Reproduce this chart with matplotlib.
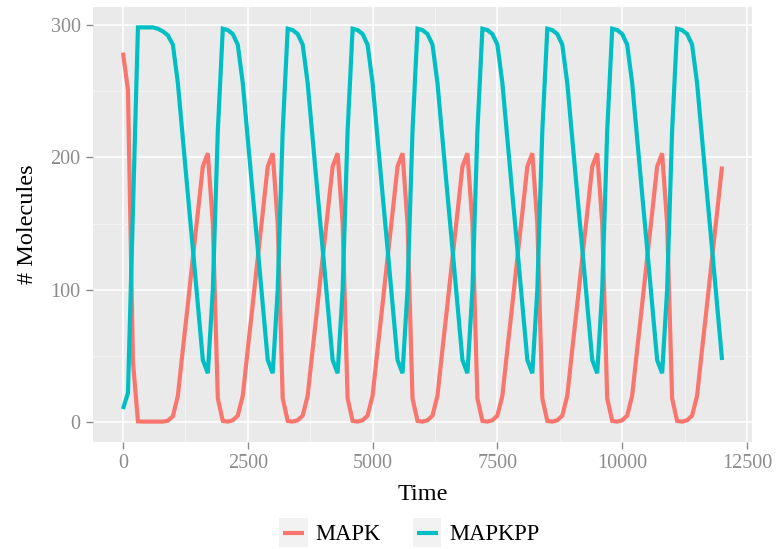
import numpy as np
import matplotlib
matplotlib.use("Agg")
import matplotlib.pyplot as plt
from matplotlib.legend_handler import HandlerLine2D
from matplotlib.patches import Rectangle
from matplotlib.lines import Line2D

# ---- data ----
time = np.arange(0, 12001, 100)

mapk = [
    279, 251, 46, 0.7, 0.5, 0.5, 0.5, 0.5, 0.5, 1.2, 4.5, 20, 55, 89, 124, 158, 193, 203, 150, 18,
    1, 0.5, 1.5, 5, 20, 55, 89, 124, 158, 193, 203, 150, 18,
    1, 0.5, 1.5, 5, 20, 55, 89, 124, 158, 193, 203, 150, 18,
    1, 0.5, 1.5, 5, 20, 55, 89, 124, 158, 193, 203, 150, 18,
    1, 0.5, 1.5, 5, 20, 55, 89, 124, 158, 193, 203, 150, 18,
    1, 0.5, 1.5, 5, 20, 55, 89, 124, 158, 193, 203, 150, 18,
    1, 0.5, 1.5, 5, 20, 55, 89, 124, 158, 193, 203, 150, 18,
    1, 0.5, 1.5, 5, 20, 55, 89, 124, 158, 193, 203, 150, 18,
    1, 0.5, 1.5, 5, 20, 55, 89, 124, 158, 193,
]
mapkpp = [
    10, 22, 160, 298, 298, 298, 298, 297, 295, 292, 285, 256, 214, 172, 131, 89, 47, 37, 100, 220,
    297, 296, 293, 285, 256, 214, 172, 131, 89, 47, 37, 100, 220,
    297, 296, 293, 285, 256, 214, 172, 131, 89, 47, 37, 100, 220,
    297, 296, 293, 285, 256, 214, 172, 131, 89, 47, 37, 100, 220,
    297, 296, 293, 285, 256, 214, 172, 131, 89, 47, 37, 100, 220,
    297, 296, 293, 285, 256, 214, 172, 131, 89, 47, 37, 100, 220,
    297, 296, 293, 285, 256, 214, 172, 131, 89, 47, 37, 100, 220,
    297, 296, 293, 285, 256, 214, 172, 131, 89, 47, 37, 100, 220,
    297, 296, 293, 285, 256, 214, 172, 131, 89, 47,
]
series_names = ["MAPK", "MAPKPP"]
series_colors = ["#F8766D", "#00BFC4"]
x_ticks = [0, 2500, 5000, 7500, 10000, 12500]
y_ticks = [0, 100, 200, 300]

FONT = ["Liberation Serif", "DejaVu Serif"]
plt.rcParams["font.family"] = FONT

W, H = 780, 549
fig = plt.figure(figsize=(W / 100, H / 100), dpi=100)
L, R, T, B = 93, 752, 7, 442
ax = fig.add_axes([L / W, 1 - B / H, (R - L) / W, (B - T) / H])
ax.set_facecolor("#EAEAEA")
for s in ax.spines.values():
    s.set_visible(False)

ax.set_xlim(-600, 12600)
ax.set_ylim(-14.9, 313.4)
ax.set_xticks(x_ticks)
ax.set_yticks(y_ticks)
ax.set_xticks([1250, 3750, 6250, 8750, 11250], minor=True)
ax.set_yticks([50, 150, 250], minor=True)
ax.grid(True, which="major", color="white", linewidth=1.1)
ax.grid(True, which="minor", color="#F4F4F4", linewidth=0.7)
ax.set_axisbelow(True)
ax.tick_params(which="major", length=5, width=1, color="#8C8C8C",
               labelcolor="#8C8C8C", labelsize=14.5, pad=4)
ax.tick_params(which="minor", length=0)

for vals, name, col in zip([mapk, mapkpp], series_names, series_colors):
    ax.plot(time, vals, color=col, linewidth=3.0, label=name,
            solid_joinstyle="miter", solid_capstyle="butt")

fig.text((L + R) / 2 / W, 1 - 494 / H, "Time", ha="center", va="center",
         fontsize=17.5, color="black")
fig.text(28 / W, 1 - 224 / H, "# Molecules", ha="center", va="center",
         rotation=90, fontsize=17.5, color="black")


class KeyHandler(HandlerLine2D):
    def create_artists(self, legend, orig_handle, xdescent, ydescent,
                       width, height, fontsize, trans):
        size = width
        cy = height / 2 - ydescent
        rect = Rectangle((-xdescent, cy - size / 2), size, size,
                         facecolor="#F2F2F2", edgecolor="none", transform=trans)
        pad = size * 0.13
        ln = Line2D([-xdescent + pad, -xdescent + size - pad], [cy, cy],
                    color=orig_handle.get_color(), linewidth=3.0,
                    solid_capstyle="butt", transform=trans)
        return [rect, ln]


handles, labels = ax.get_legend_handles_labels()
leg = fig.legend(handles, labels, loc="center", bbox_to_anchor=(0.525, 1 - 535 / H),
                 ncol=2, frameon=False, fontsize=16.3, handlelength=1.26,
                 handletextpad=0.35, columnspacing=1.4,
                 handler_map={Line2D: KeyHandler()})

fig.savefig("out.png", dpi=100)
